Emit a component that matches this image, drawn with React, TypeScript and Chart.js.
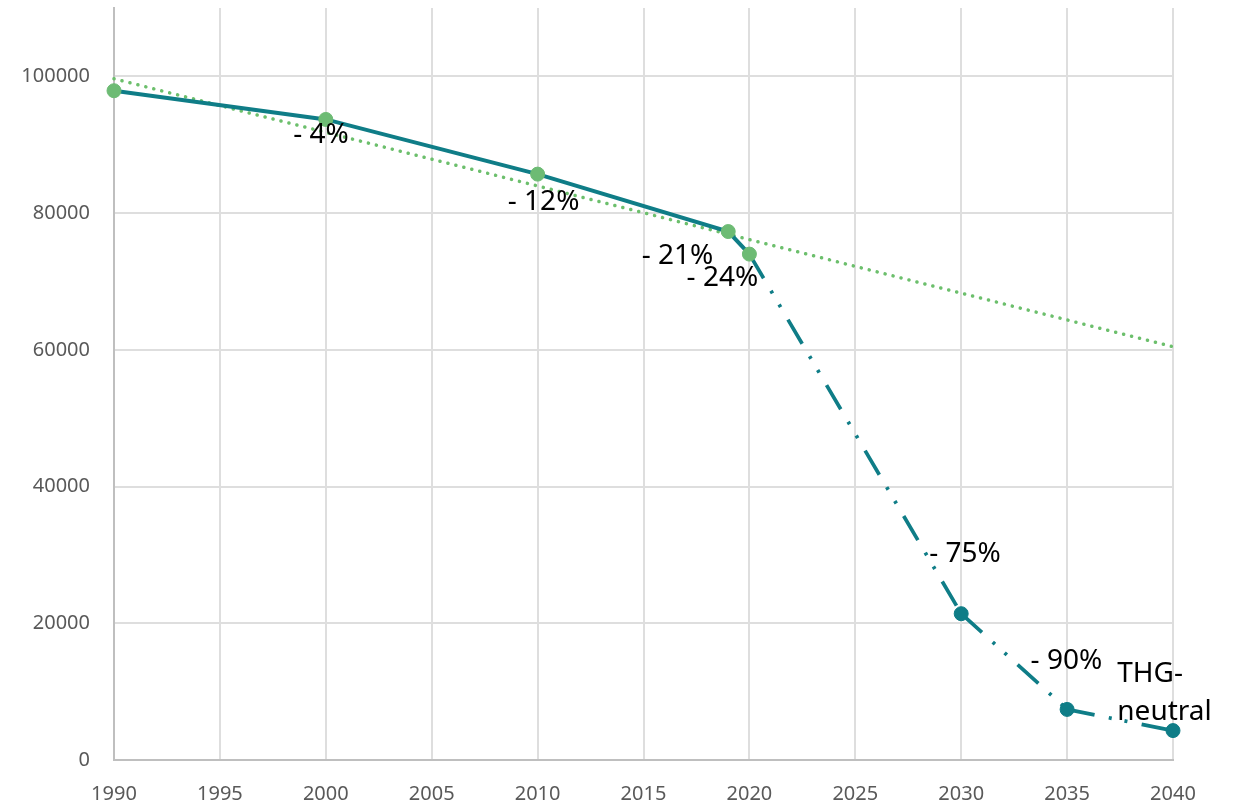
import React, { useEffect, useRef } from "react";
import { Chart, registerables } from "chart.js";

Chart.register(...registerables);

// ---- data ----
const historicYears = [1990, 2000, 2010, 2019, 2020];
const historicValues = [97900, 93700, 85700, 77300, 74000];

const targetYears = [2020, 2030, 2035, 2040];
const targetValues = [74000, 21400, 7400, 4300];

const trendYears = [1990, 2040];
const trendValues = [99650, 60450];

const xTickValues = [1990, 1995, 2000, 2005, 2010, 2015, 2020, 2025, 2030, 2035, 2040];
const yTickValues = [0, 20000, 40000, 60000, 80000, 100000];

const labelYears = [2000, 2010, 2019, 2020, 2030, 2035, 2040];
const labelValues = [93700, 85700, 77300, 74000, 21400, 7400, 4300];
const labelTexts = ["- 4%", "- 12%", "- 21%", "- 24%", "- 75%", "- 90%", "THG-\nneutral"];

// ---- styling (pixel offsets of annotation text relative to its point) ----
const labelOffsets: [number, number, CanvasTextAlign][] = [
  [-4.7, 23.3, "center"],
  [6, 35.6, "center"],
  [-50.7, 32.4, "center"],
  [-27, 31.7, "center"],
  [3.8, -51.6, "center"],
  [-0.7, -40.3, "center"],
  [-55.7, -49, "left"],
];
const labelLineHeight = 38;

const TEAL = "#0f7d87";
const GREEN_POINT = "#6dbb74";
const GREEN_TREND = "#6cbf6c";
const FONT = "'Noto Sans', sans-serif";

const annotationPlugin = {
  id: "pctLabels",
  afterDatasetsDraw(chart: any) {
    const { ctx, scales } = chart;
    const xs = scales.x;
    const ys = scales.y;
    ctx.save();
    ctx.fillStyle = "#000000";
    ctx.font = `28px ${FONT}`;
    ctx.textBaseline = "alphabetic";
    labelTexts.forEach((txt, i) => {
      const px = xs.getPixelForValue(labelYears[i]);
      const py = ys.getPixelForValue(labelValues[i]);
      const [dx, dy, align] = labelOffsets[i];
      ctx.textAlign = align;
      txt.split("\n").forEach((line, li) => {
        ctx.fillText(line, px + dx, py + dy + li * labelLineHeight);
      });
    });
    ctx.restore();
  },
};

export default function App() {
  const ref = useRef<HTMLCanvasElement | null>(null);

  useEffect(() => {
    if (!ref.current) return;
    const chart = new Chart(ref.current, {
      type: "line",
      data: {
        datasets: [
          {
            label: "historic",
            data: historicYears.map((x, i) => ({ x, y: historicValues[i] })),
            borderColor: TEAL,
            borderWidth: 4,
            pointRadius: 7,
            pointBackgroundColor: GREEN_POINT,
            pointBorderColor: GREEN_POINT,
            pointBorderWidth: 1,
            tension: 0,
            clip: false,
            order: 1,
          },
          {
            label: "target",
            data: targetYears.map((x, i) => ({ x, y: targetValues[i] })),
            borderColor: TEAL,
            borderWidth: 3.7,
            borderDash: [28, 14.5, 3, 13, 3, 14.5],
            segment: {
              borderDashOffset: (c: any) => (c.p0DataIndex % 2 ? 76 : 0),
            },
            pointRadius: targetYears.map((_, i) => (i === 0 ? 0 : 7)),
            pointBackgroundColor: TEAL,
            pointBorderColor: TEAL,
            pointBorderWidth: 1,
            tension: 0,
            clip: false,
            order: 2,
          },
          {
            label: "trend",
            data: trendYears.map((x, i) => ({ x, y: trendValues[i] })),
            borderColor: GREEN_TREND,
            borderWidth: 3.5,
            borderDash: [0.1, 8.1],
            borderCapStyle: "round",
            pointRadius: 0,
            tension: 0,
            clip: false,
            order: 3,
          },
        ],
      },
      options: {
        animation: false,
        responsive: false,
        devicePixelRatio: 1,
        layout: { padding: { top: 5, right: 62, left: 0, bottom: 0 } },
        plugins: {
          legend: { display: false },
          tooltip: { enabled: false },
        },
        scales: {
          x: {
            type: "linear",
            min: 1990,
            max: 2040,
            afterBuildTicks: (s: any) => {
              s.ticks = xTickValues.map((v) => ({ value: v }));
            },
            afterFit: (s: any) => {
              s.height = 42;
              s.paddingLeft = 0;
              s.paddingRight = 0;
            },
            ticks: {
              padding: 22,
              color: "#595959",
              font: { family: FONT, size: 20 },
              maxRotation: 0,
              callback: (v: any) => String(v),
            },
            grid: { color: "#dedede", lineWidth: 2, drawTicks: false },
            border: { display: true, color: "#bfbfbf", width: 2 },
          },
          y: {
            type: "linear",
            min: 0,
            max: 110000,
            afterBuildTicks: (s: any) => {
              s.ticks = yTickValues.map((v) => ({ value: v }));
            },
            afterFit: (s: any) => {
              s.width = 114;
              s.paddingTop = 0;
              s.paddingBottom = 0;
            },
            ticks: {
              padding: 24,
              color: "#595959",
              font: { family: FONT, size: 20 },
              callback: (v: any) => String(v),
            },
            grid: { color: "#dedede", lineWidth: 2, drawTicks: false },
            border: { display: true, color: "#bfbfbf", width: 2 },
          },
        },
      },
      plugins: [annotationPlugin],
    } as any);
    return () => chart.destroy();
  }, []);

  return (
    <div style={{ position: "fixed", left: 0, top: 0, width: 1235, height: 802, background: "#fff" }}>
      <canvas ref={ref} width={1235} height={802} />
    </div>
  );
}
